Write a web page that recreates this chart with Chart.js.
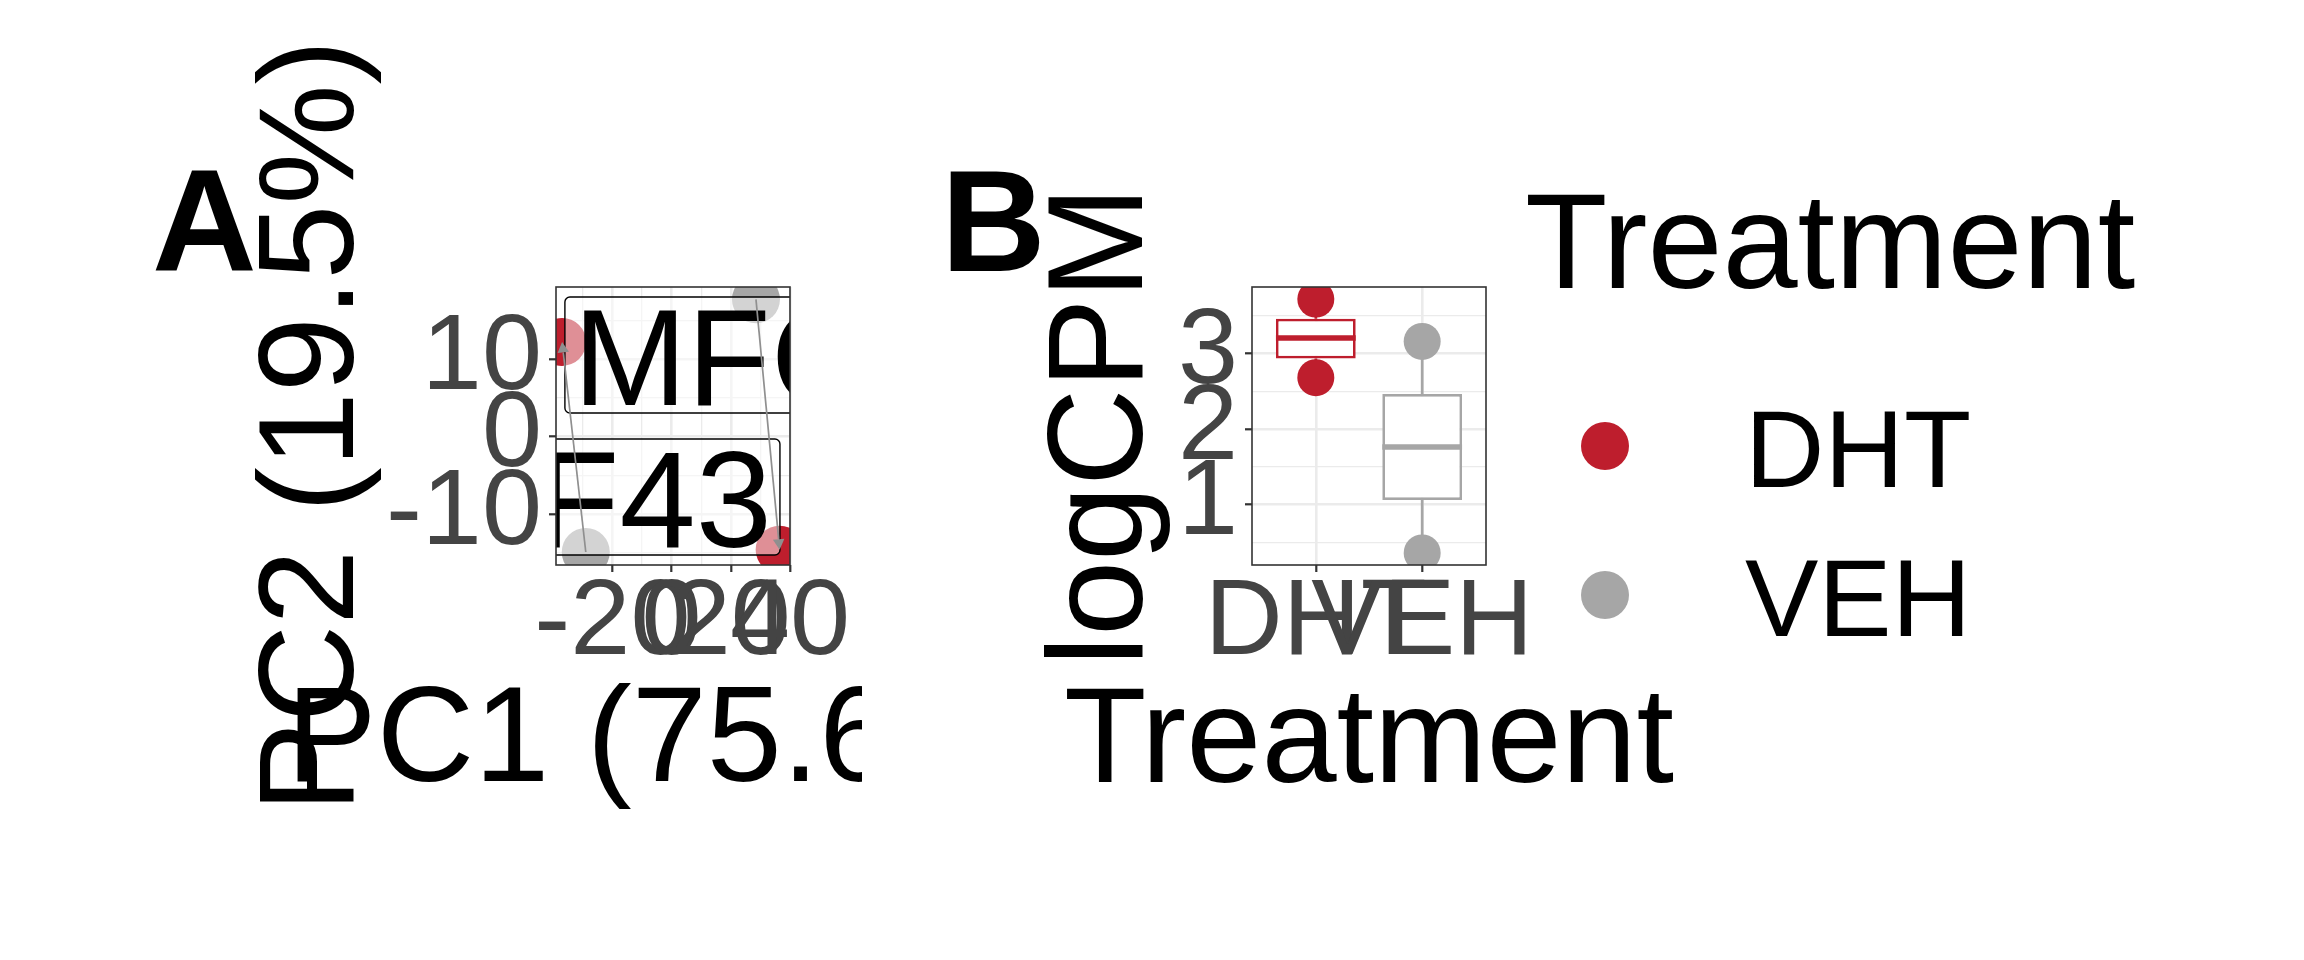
<!DOCTYPE html>
<html><head><meta charset="utf-8">
<script src="https://cdn.jsdelivr.net/npm/chart.js@4.4.1/dist/chart.umd.min.js"></script>
<style>
html,body{margin:0;padding:0;background:#fff;}
#wrap{position:relative;width:2304px;height:960px;overflow:hidden;background:#fff}
canvas{position:absolute;top:0}
#cA{left:0}
#cB{left:862px}
</style></head><body>
<div id="wrap"><canvas id="cA" width="862" height="960"></canvas><canvas id="cB" width="1442" height="960"></canvas></div>
<script>
// ---------- data ----------
const treatments = ['DHT', 'VEH'];
// Panel A: PCA scores
const pcaDHT_x = [-37.0, 36.5];
const pcaDHT_y = [12.2, -14.6];
const pcaVEH_x = [28.5, -29.0];
const pcaVEH_y = [17.7, -14.9];
// arrows from VEH sample to paired DHT sample
const arrowFromVEH = [1, 0];
const arrowToDHT = [0, 1];
// repelled sample labels (anchor = text start / end, baseline)
const labelText = ['MFC43', 'MCF43'];
const labelX = [-33.35, 33.9];
const labelY = [4.06, -14.26];
const labelAnchor = ['left', 'right'];
const pcaXBreaks = [-20, 0, 20, 40];
const pcaYBreaks = [-10, 0, 10];
const pcaXTitle = 'PC1 (75.6%)';
const pcaYTitle = 'PC2 (19.5%)';
// Panel B: logCPM by treatment
const logcpmDHT = [2.68, 3.72];
const logcpmVEH = [0.36, 3.16];
const boxQ1 = [2.934, 1.062];
const boxMedian = [3.204, 1.762];
const boxQ3 = [3.46, 2.462];
const whiskerLow = [2.68, 0.36];
const whiskerHigh = [3.72, 3.16];
const logcpmBreaks = [1, 2, 3];
const logcpmTitle = 'logCPM';
const treatTitle = 'Treatment';

// ---------- styles ----------
const FAMILY = '"Liberation Sans", Arial, Helvetica, sans-serif';
const RED = '#be1e2d', GREY = '#a6a6a6';
const colors = [RED, GREY];
const TICK_SIZE = 108, TITLE_SIZE = 135;

function txt(ctx, s, x, y, o) {
  ctx.save();
  ctx.translate(x, y);
  if (o.rot) ctx.rotate(o.rot);
  ctx.font = (o.weight || 'normal') + ' ' + o.size + 'px ' + FAMILY;
  ctx.fillStyle = o.color || '#000';
  ctx.textAlign = o.align || 'left';
  ctx.textBaseline = 'alphabetic';
  ctx.fillText(s, 0, 0);
  ctx.restore();
}
function rrect(ctx, x, y, w, h, r) {
  ctx.beginPath();
  ctx.moveTo(x + r, y);
  ctx.lineTo(x + w - r, y); ctx.arcTo(x + w, y, x + w, y + r, r);
  ctx.lineTo(x + w, y + h - r); ctx.arcTo(x + w, y + h, x + w - r, y + h, r);
  ctx.lineTo(x + r, y + h); ctx.arcTo(x, y + h, x, y + h - r, r);
  ctx.lineTo(x, y + r); ctx.arcTo(x, y, x + r, y, r);
  ctx.closePath();
}
function gridOpts(breaks) {
  return {
    color: '#ebebeb',
    lineWidth: c => (c.tick && breaks.includes(c.tick.value)) ? 2.6 : 1.3,
    drawTicks: true,
    tickLength: 7,
    tickWidth: 2.2,
    tickColor: c => (c.tick && breaks.includes(c.tick.value)) ? '#333333' : 'rgba(0,0,0,0)'
  };
}
function tickOpts(extra) {
  return Object.assign({
    autoSkip: false, maxRotation: 0, minRotation: 0, includeBounds: false,
    color: '#444444', font: {family: FAMILY, size: TICK_SIZE, lineHeight: 1}
  }, extra);
}
function border(chart) {
  const {ctx, chartArea: ca} = chart;
  ctx.save();
  ctx.strokeStyle = '#333333'; ctx.lineWidth = 1.6;
  ctx.strokeRect(ca.left, ca.top, ca.right - ca.left, ca.bottom - ca.top);
  ctx.restore();
}

// ---------- Panel A ----------
const panelAPlugin = {
  id: 'panelA',
  afterDatasetsDraw(chart) {
    const {ctx, chartArea: ca, scales: {x, y}} = chart;
    ctx.save();
    ctx.beginPath(); ctx.rect(ca.left, ca.top, ca.right - ca.left, ca.bottom - ca.top); ctx.clip();
    // labels
    ctx.font = '137px ' + FAMILY;
    labelText.forEach((t, i) => {
      const w = ctx.measureText(t).width;
      const px = x.getPixelForValue(labelX[i]);
      const py = y.getPixelForValue(labelY[i]);
      const x0 = labelAnchor[i] === 'left' ? px : px - w;
      rrect(ctx, x0 - 8, py - 108, w + 16, 116, 5);
      ctx.fillStyle = 'rgba(255,255,255,0.5)'; ctx.fill();
      ctx.lineWidth = 1.4; ctx.strokeStyle = '#000'; ctx.stroke();
      ctx.fillStyle = '#000'; ctx.textAlign = 'left'; ctx.textBaseline = 'alphabetic';
      ctx.fillText(t, x0, py);
    });
    // arrows
    ctx.strokeStyle = '#8f8f8f'; ctx.fillStyle = '#8f8f8f'; ctx.lineWidth = 1.7;
    arrowFromVEH.forEach((vi, k) => {
      const di = arrowToDHT[k];
      const x1 = x.getPixelForValue(pcaVEH_x[vi]), y1 = y.getPixelForValue(pcaVEH_y[vi]);
      const x2 = x.getPixelForValue(pcaDHT_x[di]), y2 = y.getPixelForValue(pcaDHT_y[di]);
      const a = Math.atan2(y2 - y1, x2 - x1), L = 12, h = 0.5;
      ctx.beginPath(); ctx.moveTo(x1, y1);
      ctx.lineTo(x2 - Math.cos(a) * L * 0.9, y2 - Math.sin(a) * L * 0.9); ctx.stroke();
      ctx.beginPath(); ctx.moveTo(x2, y2);
      ctx.lineTo(x2 - L * Math.cos(a - h), y2 - L * Math.sin(a - h));
      ctx.lineTo(x2 - L * Math.cos(a + h), y2 - L * Math.sin(a + h));
      ctx.closePath(); ctx.fill();
    });
    ctx.restore();
  },
  afterDraw(chart) {
    const {ctx, chartArea: ca} = chart;
    border(chart);
    const cx = (ca.left + ca.right) / 2, cy = (ca.top + ca.bottom) / 2;
    txt(ctx, pcaXTitle, cx, ca.bottom + 216, {size: TITLE_SIZE, align: 'center'});
    txt(ctx, pcaYTitle, ca.left - 203, cy, {size: TITLE_SIZE, align: 'center', rot: -Math.PI / 2});
    txt(ctx, 'A', 152, 270, {size: 145, weight: 'bold'});
  }
};

new Chart(document.getElementById('cA'), {
  type: 'scatter',
  data: {
    datasets: [
      {label: 'DHT', data: pcaDHT_x.map((v, i) => ({x: v, y: pcaDHT_y[i]})),
       backgroundColor: RED, borderWidth: 0, pointRadius: 24, pointHoverRadius: 24, clip: 0},
      {label: 'VEH', data: pcaVEH_x.map((v, i) => ({x: v, y: pcaVEH_y[i]})),
       backgroundColor: GREY, borderWidth: 0, pointRadius: 24, pointHoverRadius: 24, clip: 0}
    ]
  },
  options: {
    responsive: false, animation: false, devicePixelRatio: 1,
    layout: {padding: {left: 0, top: 287, right: 72, bottom: 0}},
    plugins: {legend: {display: false}, tooltip: {enabled: false}},
    events: [],
    scales: {
      x: {
        type: 'linear', position: 'bottom', min: -39.06, max: 40,
        afterFit: s => { s.height = 395; s.paddingLeft = 0; s.paddingRight = 0; },
        ticks: tickOpts({stepSize: 10, padding: -2, callback: v => pcaXBreaks.includes(v) ? String(v) : ''}),
        grid: gridOpts(pcaXBreaks),
        border: {display: false}
      },
      y: {
        type: 'linear', position: 'left', min: -16.58, max: 19.29,
        afterFit: s => { s.width = 556; s.paddingTop = 0; s.paddingBottom = 0; },
        ticks: tickOpts({stepSize: 5, padding: 7, callback: v => pcaYBreaks.includes(v) ? String(v) : ''}),
        grid: gridOpts(pcaYBreaks),
        border: {display: false}
      }
    }
  },
  plugins: [panelAPlugin]
});

// ---------- Panel B ----------
const OFF = 862;
const panelBPlugin = {
  id: 'panelB',
  beforeDatasetsDraw(chart) {
    const {ctx, chartArea: ca, scales: {x, y}} = chart;
    ctx.save();
    ctx.beginPath(); ctx.rect(ca.left, ca.top, ca.right - ca.left, ca.bottom - ca.top); ctx.clip();
    ctx.lineWidth = 2.7;
    treatments.forEach((t, i) => {
      const px = x.getPixelForValue(i + 1);
      ctx.strokeStyle = colors[i];
      ctx.beginPath();
      ctx.moveTo(px, y.getPixelForValue(whiskerHigh[i])); ctx.lineTo(px, y.getPixelForValue(boxQ3[i]));
      ctx.moveTo(px, y.getPixelForValue(boxQ1[i])); ctx.lineTo(px, y.getPixelForValue(whiskerLow[i]));
      ctx.stroke();
    });
    ctx.restore();
  },
  afterDatasetDraw(chart, args) {
    if (args.meta.type !== 'bar') return;
    const {ctx, scales: {x, y}} = chart;
    ctx.save();
    ctx.lineWidth = 5.4;
    args.meta.data.forEach((bar, i) => {
      const py = y.getPixelForValue(boxMedian[i]);
      ctx.strokeStyle = colors[i];
      ctx.beginPath();
      ctx.moveTo(bar.x - bar.width / 2, py); ctx.lineTo(bar.x + bar.width / 2, py);
      ctx.stroke();
    });
    ctx.restore();
  },
  afterDraw(chart) {
    const {ctx, chartArea: ca} = chart;
    border(chart);
    const cx = (ca.left + ca.right) / 2, cy = (ca.top + ca.bottom) / 2;
    txt(ctx, treatTitle, cx, ca.bottom + 217, {size: TITLE_SIZE, align: 'center'});
    txt(ctx, logcpmTitle, ca.left - 110, cy, {size: TITLE_SIZE, align: 'center', rot: -Math.PI / 2});
    txt(ctx, 'B', 941 - OFF, 271, {size: 145, weight: 'bold'});
    // legend
    txt(ctx, treatTitle, 1525 - OFF, 288, {size: TITLE_SIZE});
    treatments.forEach((t, i) => {
      const ky = 446 + i * 149;
      ctx.save();
      ctx.fillStyle = colors[i];
      ctx.beginPath(); ctx.arc(1605 - OFF, ky, 24, 0, Math.PI * 2); ctx.fill();
      ctx.restore();
      txt(ctx, t, 1745 - OFF, ky + 41, {size: 110});
    });
  }
};

new Chart(document.getElementById('cB'), {
  type: 'bar',
  data: {
    datasets: [
      {type: 'scatter', label: 'DHT', order: 0, data: logcpmDHT.map(v => ({x: 1, y: v})),
       backgroundColor: RED, borderWidth: 0, pointRadius: 18.5, pointHoverRadius: 18.5, clip: 0},
      {type: 'scatter', label: 'VEH', order: 0, data: logcpmVEH.map(v => ({x: 2, y: v})),
       backgroundColor: GREY, borderWidth: 0, pointRadius: 18.5, pointHoverRadius: 18.5, clip: 0},
      {type: 'bar', label: 'box', order: 2,
       data: treatments.map((t, i) => ({x: i + 1, y: [boxQ1[i], boxQ3[i]]})),
       backgroundColor: '#ffffff', borderColor: colors, borderWidth: 2.7, borderSkipped: false,
       barPercentage: 0.75, categoryPercentage: 1, clip: 0}
    ]
  },
  options: {
    responsive: false, animation: false, devicePixelRatio: 1,
    layout: {padding: {left: 0, top: 287, right: 818, bottom: 0}},
    plugins: {legend: {display: false}, tooltip: {enabled: false}},
    events: [],
    scales: {
      x: {
        type: 'linear', position: 'bottom', min: 0.4, max: 2.6, offset: false,
        afterFit: s => { s.height = 395; s.paddingLeft = 0; s.paddingRight = 0; },
        ticks: tickOpts({stepSize: 1, padding: -2, callback: v => treatments[v - 1] || ''}),
        grid: Object.assign(gridOpts([1, 2]), {offset: false}),
        border: {display: false}
      },
      y: {
        type: 'linear', position: 'left', min: 0.2, max: 3.88,
        afterFit: s => { s.width = 390; s.paddingTop = 0; s.paddingBottom = 0; },
        ticks: tickOpts({stepSize: 0.5, padding: 7, callback: v => logcpmBreaks.includes(v) ? String(v) : ''}),
        grid: gridOpts(logcpmBreaks),
        border: {display: false}
      }
    }
  },
  plugins: [panelBPlugin]
});
</script>
</body></html>
